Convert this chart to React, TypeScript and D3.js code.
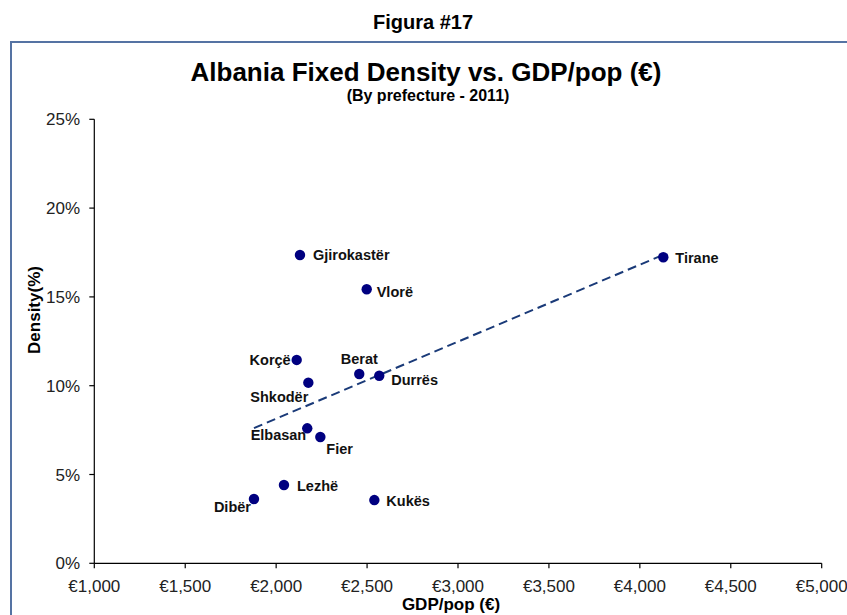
import React from "react";
import * as d3 from "d3";

const prefectures = ["Gjirokastër", "Vlorë", "Korçë", "Shkodër", "Berat", "Durrës", "Elbasan", "Fier", "Lezhë", "Dibër", "Kukës", "Tirane"];
const gdpPerPop = [2131, 2498, 2113, 2177, 2457, 2567, 2171, 2243, 2043, 1878, 2540, 4129];
const density = [0.1736, 0.1543, 0.1145, 0.1017, 0.1066, 0.1056, 0.076, 0.0711, 0.0441, 0.0362, 0.0356, 0.1723];
const xTicks = [1000, 1500, 2000, 2500, 3000, 3500, 4000, 4500, 5000];
const yTicks = [0, 0.05, 0.1, 0.15, 0.2, 0.25];

// label placement (style, not data)
const labelPlacement: Record<string, { dx: number; dy: number; anchor: string }> = {
  "Gjirokastër": { dx: 13, dy: 5, anchor: "start" },
  "Vlorë": { dx: 10, dy: 8, anchor: "start" },
  "Korçë": { dx: -6, dy: 5, anchor: "end" },
  "Shkodër": { dx: 0, dy: 19, anchor: "end" },
  "Berat": { dx: 0, dy: -10, anchor: "middle" },
  "Durrës": { dx: 12, dy: 9, anchor: "start" },
  "Elbasan": { dx: -1, dy: 12, anchor: "end" },
  "Fier": { dx: 6, dy: 17, anchor: "start" },
  "Lezhë": { dx: 13, dy: 6, anchor: "start" },
  "Dibër": { dx: -3, dy: 13, anchor: "end" },
  "Kukës": { dx: 12, dy: 6, anchor: "start" },
  "Tirane": { dx: 12, dy: 6, anchor: "start" },
};

const FONT = "'Liberation Sans', Arial, Helvetica, sans-serif";

export default function App() {
  const W = 847, H = 615;
  const x = d3.scaleLinear().domain([1000, 5000]).range([94.3, 821.7]);
  const y = d3.scaleLinear().domain([0, 0.25]).range([563.3, 119.3]);

  const pts = prefectures.map((name, i) => ({ name, gx: gdpPerPop[i], d: density[i] }));
  const mx = d3.mean(gdpPerPop) as number;
  const my = d3.mean(density) as number;
  const sxy = d3.sum(pts, (p) => (p.gx - mx) * (p.d - my));
  const sxx = d3.sum(pts, (p) => (p.gx - mx) ** 2);
  const slope = sxy / sxx;
  const icpt = my - slope * mx;
  const [x0, x1] = d3.extent(gdpPerPop) as [number, number];
  const trend = d3.line<number>().x((v) => x(v)).y((v) => y(icpt + slope * v))([x0, x1]) as string;

  const fmtX = (v: number) => "€" + d3.format(",")(v);
  const fmtY = d3.format(".0%");

  return (
    <svg width={W} height={H} style={{ position: "absolute", left: 0, top: 0, background: "#fff" }} fontFamily={FONT}>
      <rect x={0} y={0} width={W} height={H} fill="#fff" />
      <text x={423} y={29} textAnchor="middle" fontSize={20} fontWeight="bold" fill="#000">Figura #17</text>
      <rect x={11} y={42} width={W + 20} height={H + 20} fill="none" stroke="#5573a3" strokeWidth={2} />
      <text x={426} y={81} textAnchor="middle" fontSize={26} fontWeight="bold" fill="#000">Albania Fixed Density vs. GDP/pop (€)</text>
      <text x={428} y={101} textAnchor="middle" fontSize={16} fontWeight="bold" fill="#000">(By prefecture - 2011)</text>

      {/* y axis */}
      <line x1={x(1000)} x2={x(1000)} y1={y(0.25)} y2={y(0)} stroke="#000" strokeWidth={1.2} />
      {yTicks.map((t) => (
        <g key={"y" + t}>
          <line x1={x(1000) - 5} x2={x(1000)} y1={y(t)} y2={y(t)} stroke="#000" strokeWidth={1.2} />
          <text x={80} y={y(t) + 6} textAnchor="end" fontSize={17} fill="#222">{fmtY(t)}</text>
        </g>
      ))}
      {/* x axis */}
      <line x1={x(1000)} x2={x(5000)} y1={y(0)} y2={y(0)} stroke="#000" strokeWidth={1.2} />
      {xTicks.map((t) => (
        <g key={"x" + t}>
          <line x1={x(t)} x2={x(t)} y1={y(0)} y2={y(0) + 5} stroke="#000" strokeWidth={1.2} />
          <text x={x(t)} y={592} textAnchor="middle" fontSize={17} fill="#222">{fmtX(t)}</text>
        </g>
      ))}
      <text x={451} y={610} textAnchor="middle" fontSize={17} fontWeight="bold" fill="#000">GDP/pop (€)</text>
      <text transform={`translate(40,310) rotate(-90)`} textAnchor="middle" fontSize={17} fontWeight="bold" fill="#000">Density(%)</text>

      {/* trendline */}
      <path d={trend} fill="none" stroke="#1a3a78" strokeWidth={2} strokeDasharray="9,5" />

      {/* points */}
      {pts.map((p) => (
        <circle key={p.name} cx={x(p.gx)} cy={y(p.d)} r={5.2} fill="#000080" />
      ))}
      {pts.map((p) => {
        const lp = labelPlacement[p.name];
        return (
          <text key={"l" + p.name} x={x(p.gx) + lp.dx} y={y(p.d) + lp.dy} textAnchor={lp.anchor} fontSize={14.5} fontWeight="bold" fill="#111">
            {p.name}
          </text>
        );
      })}
    </svg>
  );
}
